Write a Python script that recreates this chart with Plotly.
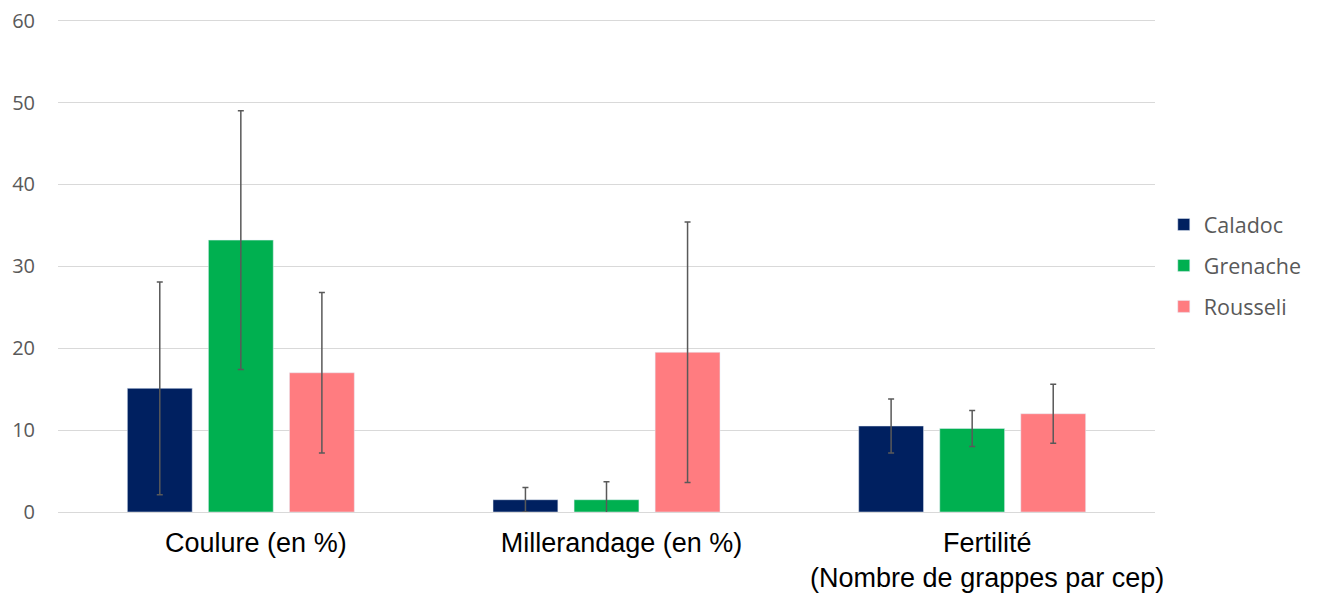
import plotly.graph_objects as go

categories = ["Coulure (en %)", "Millerandage (en %)", "Fertilité<br>(Nombre de grappes par cep)"]
varieties = ["Caladoc", "Grenache", "Rousseli"]
colors = ["#002060", "#00B050", "#FF7C80"]

caladoc = [15.1, 1.5, 10.5]
caladoc_err = [13.0, 1.5, 3.3]
grenache = [33.2, 1.5, 10.2]
grenache_err = [15.8, 2.2, 2.2]
rousseli = [17.0, 19.5, 12.0]
rousseli_err = [9.8, 15.9, 3.6]

values = [caladoc, grenache, rousseli]
errors = [caladoc_err, grenache_err, rousseli_err]

fig = go.Figure()
for name, vals, errs, col in zip(varieties, values, errors, colors):
    fig.add_trace(go.Bar(
        x=categories, y=vals, name=name, marker_color=col, legendgroup=name,
        error_y=dict(type="data", array=errs, color="#595959", thickness=1.5, width=3),
    ))

fig.update_layout(
    width=1319, height=601,
    margin=dict(l=58, r=161, t=19, b=89),
    plot_bgcolor="white", paper_bgcolor="white",
    barmode="group", bargap=0.335, bargroupgap=0.2,
    font=dict(family="Open Sans", color="#595959"),
    legend=dict(x=1.008, y=0.5, yanchor="middle", xanchor="left",
                font=dict(size=21.5, color="#595959"), tracegroupgap=10,
                traceorder="grouped", itemwidth=30),
)
fig.update_xaxes(
    tickfont=dict(family="Liberation Sans", size=27, color="black"),
    showline=False, ticks="", ticklabelstandoff=12, ticklabelshift=15,
    automargin=False,
)
fig.update_yaxes(
    range=[0, 60.2], tickvals=[0, 10, 20, 30, 40, 50, 60], gridcolor="#D9D9D9", gridwidth=1,
    zeroline=True, zerolinecolor="#D9D9D9", zerolinewidth=1, showline=False,
    tickfont=dict(size=20, color="#595959"), ticklabelstandoff=22,
    automargin=False,
)

# drop the default 8px body margin so the figure fills the window
fig.write_html("out.html", config={"displayModeBar": False},
               post_script="document.body.style.margin='0';document.body.style.overflow='hidden';")
